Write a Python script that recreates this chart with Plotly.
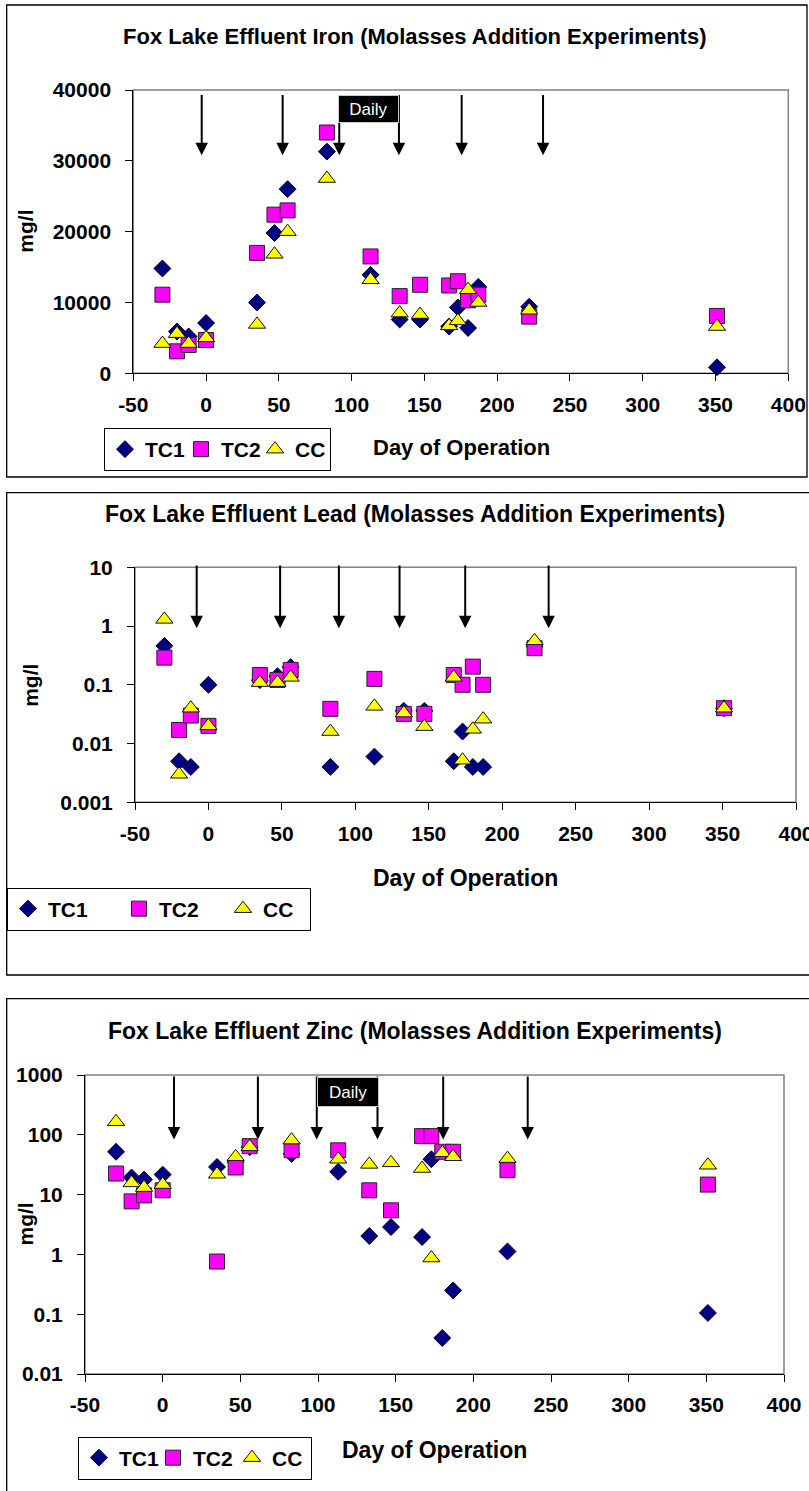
import math
import plotly.graph_objects as go

W, H = 809, 1491
FONT = "Liberation Sans, Arial, sans-serif"

# ---------------- data ----------------
days = [-30, -20, -12, 0, 35, 47, 56, 83, 113, 133, 147, 167, 173, 180, 187, 222, 351]

iron_tc1 = [14800, 5900, 5200, 7100, 10000, 19800, 26000, 31300, 13900, 7600, 7600, 6600, 9300, 6400, 12200, 9400, 850]
iron_tc2 = [11100, 3100, 4000, 4700, 17000, 22400, 23000, 34000, 16500, 10900, 12500, 12400, 13000, 10300, 11100, 8000, 8100]
iron_cc = [4200, 5600, 4200, 5000, 6900, 16800, 20000, 27500, 13200, 8500, 8300, 6700, 7400, 11800, 10000, 8900, 6600]

lead_tc1 = [0.46, 0.005, 0.004, 0.1, 0.12, 0.14, 0.2, 0.004, 0.006, 0.036, 0.036, 0.005, 0.016, 0.004, 0.004, 0.45, 0.04]
lead_tc2 = [0.29, 0.017, 0.03, 0.02, 0.147, 0.121, 0.179, 0.039, 0.126, 0.032, 0.032, 0.147, 0.1, 0.204, 0.1, 0.42, 0.04]
lead_cc = [1.3, 0.003, 0.04, 0.02, 0.109, 0.109, 0.134, 0.016, 0.043, 0.033, 0.0194, 0.134, 0.0052, 0.0175, 0.026, 0.56, 0.04]

zinc_tc1 = [52, 19.3, 17.8, 21.6, 29, 35, 62, 48, 24, 2.03, 2.87, 1.95, 39, 0.040, 0.25, 1.12, 0.105]
zinc_tc2 = [22.5, 7.7, 9.7, 11.8, 0.76, 28.4, 64.6, 55.3, 55, 11.8, 5.46, 95, 95, 52, 52, 25.6, 14.7]
zinc_cc = [165, 15.7, 13.1, 14.7, 21.9, 42.8, 63, 81.5, 39, 32, 34, 27.3, 0.87, 50, 43, 40, 31]

# molasses addition days (arrows) and daily-addition windows
iron_arrow_days = [-3, 52.6, 91.5, 132.5, 175.6, 231.5]
lead_arrow_days = [-8, 48.8, 88.8, 130.1, 174.8, 231.6]
zinc_arrow_days = [7.3, 61.3, 99.2, 138.3, 180.6, 235]
iron_daily = [90.8, 132.5]
lead_daily = [88.1, 131.2]
zinc_daily = [99.2, 139.2]

series_names = ["TC1", "TC2", "CC"]
x_tick_vals = [-50, 0, 50, 100, 150, 200, 250, 300, 350, 400]
x_tick_text = ["-50", "0", "50", "100", "150", "200", "250", "300", "350", "400"]
iron_tick_vals = [0, 10000, 20000, 30000, 40000]
iron_tick_text = ["0", "10000", "20000", "30000", "40000"]
lead_tick_vals = [0.001, 0.01, 0.1, 1, 10]
lead_tick_text = ["0.001", "0.01", "0.1", "1", "10"]
zinc_tick_vals = [0.01, 0.1, 1, 10, 100, 1000]
zinc_tick_text = ["0.01", "0.1", "1", "10", "100", "1000"]

titles = ["Fox Lake Effluent Iron (Molasses Addition Experiments)",
          "Fox Lake Effluent Lead (Molasses Addition Experiments)",
          "Fox Lake Effluent Zinc (Molasses Addition Experiments)"]

# ---------------- styling / layout ----------------
styles = [
    dict(symbol="diamond", color="#000080", line="#000033", size=13),
    dict(symbol="square", color="#FF00FF", line="#222222", size=15),
    dict(symbol="triangle-up", color="#FFFF00", line="#111111", size=15),
]

panels = [
    dict(box=(6.7, 5, 807, 477), plot=(133.3, 90, 788.3, 373.3), log=False,
         yrange=[0, 40000], yt=(iron_tick_vals, iron_tick_text),
         data=[iron_tc1, iron_tc2, iron_cc], arrows=iron_arrow_days, daily=iron_daily,
         arrow_tail=39500, arrow_tip=30800, daily_top=39300, daily_h=28,
         title_y=37, title_size=22, xt_y=447, xt_x=461, xt_size=22, yt_x=26,
         leg=dict(x=104, y=449.5, widths=[31, 29, 30])),
    dict(box=(6.7, 492.7, 812, 975), plot=(135, 567.3, 796, 802.3), log=True,
         yrange=[-3, 1], yt=(lead_tick_vals, lead_tick_text),
         data=[lead_tc1, lead_tc2, lead_cc], arrows=lead_arrow_days, daily=lead_daily,
         arrow_tail=1.056, arrow_tip=-0.038, daily_top=1.03, daily_h=30,
         title_y=514, title_size=23, xt_y=878, xt_x=465, xt_size=23, yt_x=31,
         leg=dict(x=7, y=909, widths=[66, 59, 42])),
    dict(box=(6.7, 998.7, 812, 1495), plot=(85, 1075, 784, 1374), log=True,
         yrange=[-2, 3], yt=(zinc_tick_vals, zinc_tick_text),
         data=[zinc_tc1, zinc_tc2, zinc_cc], arrows=zinc_arrow_days, daily=zinc_daily,
         arrow_tail=3.0, arrow_tip=1.922, daily_top=2.97, daily_h=30,
         title_y=1031, title_size=23, xt_y=1450, xt_x=434, xt_size=23, yt_x=25,
         leg=dict(x=78, y=1458, widths=[29, 34, 34])),
]


def px(x):
    return x / W


def py(y):
    return 1 - y / H


fig = go.Figure()
shapes, annotations = [], []
layout = dict(width=W, height=H, margin=dict(l=0, r=0, t=0, b=0, pad=0, autoexpand=False),
              paper_bgcolor="white", plot_bgcolor="white", showlegend=True)

for i, p in enumerate(panels):
    n = "" if i == 0 else str(i + 1)
    xa, ya = "x" + n, "y" + n
    legname = "legend" + n
    x0, y0, x1, y1 = p["plot"]
    ppd = (x1 - x0) / (x_tick_vals[-1] - x_tick_vals[0])  # px per day

    for k, (name, vals) in enumerate(zip(series_names, p["data"])):
        st = styles[k]
        fig.add_trace(go.Scatter(
            x=days, y=vals, mode="markers", name=name, xaxis=xa, yaxis=ya,
            legend=legname, legendwidth=p["leg"]["widths"][k],
            marker=dict(symbol=st["symbol"], color=st["color"], size=st["size"],
                        line=dict(color=st["line"], width=1)),
            cliponaxis=False, hoverinfo="x+y+name"))

    tickfont = dict(family=FONT, size=21, color="black", weight="bold")
    layout["xaxis" + n] = dict(
        domain=[px(x0), px(x1)], anchor=ya, range=[x_tick_vals[0], x_tick_vals[-1]],
        tickvals=x_tick_vals, ticktext=x_tick_text, tickfont=tickfont,
        ticks="outside", ticklen=7, tickcolor="black", tickwidth=1, automargin=False,
        showline=True, linecolor="black", linewidth=1, showgrid=False, zeroline=False,
        ticklabelstandoff=5, ticklabeloverflow="allow", fixedrange=True)
    yax = dict(
        domain=[py(y1), py(y0)], anchor=xa, tickvals=p["yt"][0], ticktext=p["yt"][1],
        tickfont=tickfont, ticks="outside", ticklen=7, tickcolor="black", tickwidth=1,
        showline=True, linecolor="black", linewidth=1, showgrid=False, zeroline=False,
        ticklabelstandoff=10, ticklabeloverflow="allow", fixedrange=True, automargin=False)
    if p["log"]:
        yax.update(type="log", range=p["yrange"])
    else:
        yax.update(range=p["yrange"])
    layout["yaxis" + n] = yax

    # outer chart border
    bx0, by0, bx1, by1 = p["box"]
    shapes.append(dict(type="rect", xref="paper", yref="paper",
                       x0=px(bx0), x1=px(bx1), y0=py(by1), y1=py(by0),
                       line=dict(color="black", width=1.3), fillcolor="rgba(0,0,0,0)",
                       layer="below"))
    # gray plot-area frame
    shapes.append(dict(type="rect", xref=xa + " domain", yref=ya + " domain",
                       x0=0, x1=1, y0=0, y1=1, line=dict(color="#808080", width=1.5),
                       layer="below"))

    # arrows
    for d in p["arrows"]:
        annotations.append(dict(
            x=d, y=p["arrow_tip"], ax=d, ay=p["arrow_tail"], xref=xa, yref=ya,
            axref=xa, ayref=ya, text="", showarrow=True, arrowhead=2,
            arrowsize=1.25, arrowwidth=2, arrowcolor="black", standoff=0))
    # daily box
    ds, de = p["daily"]
    annotations.append(dict(
        x=(ds + de) / 2, y=p["daily_top"], xref=xa, yref=ya, xanchor="center",
        yanchor="top", text="Daily", showarrow=False, bgcolor="black",
        bordercolor="#C8C8C8", borderwidth=1, borderpad=0,
        width=(de - ds) * ppd - 2, height=p["daily_h"] - 2,
        font=dict(family=FONT, size=17, color="white")))

    # chart title
    annotations.append(dict(
        x=px(415), y=py(p["title_y"]), xref="paper", yref="paper", xanchor="center",
        yanchor="middle", text=titles[i], showarrow=False,
        font=dict(family=FONT, size=p["title_size"], color="black", weight="bold")))
    # axis titles
    annotations.append(dict(
        x=px(p["xt_x"]), y=py(p["xt_y"]), xref="paper", yref="paper", xanchor="center",
        yanchor="middle", text="Day of Operation", showarrow=False,
        font=dict(family=FONT, size=p["xt_size"], color="black", weight="bold")))
    annotations.append(dict(
        x=px(p["yt_x"]), y=py((y0 + y1) / 2), xref="paper", yref="paper",
        xanchor="center", yanchor="middle", text="mg/l", textangle=-90, showarrow=False,
        font=dict(family=FONT, size=21, color="black", weight="bold")))

    layout[legname] = dict(
        orientation="h", x=px(p["leg"]["x"]), y=py(p["leg"]["y"]), xanchor="left",
        yanchor="middle", bordercolor="black", borderwidth=1, bgcolor="white",
        font=dict(family=FONT, size=21, color="black", weight="bold"),
        traceorder="normal", itemclick=False, itemdoubleclick=False)

layout["shapes"] = shapes
layout["annotations"] = annotations
fig.update_layout(**layout)
fig.write_html("out.html", config={"displayModeBar": False})
